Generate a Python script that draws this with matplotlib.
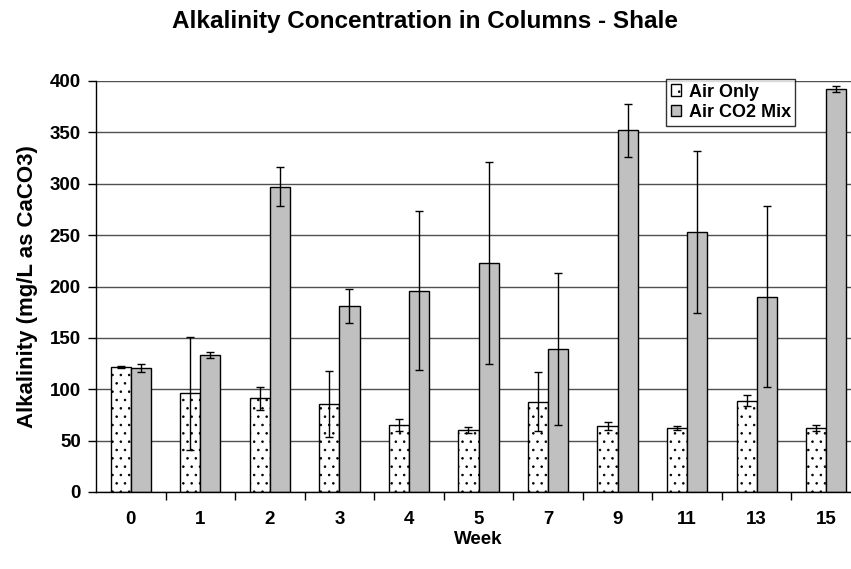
import numpy as np
import matplotlib
matplotlib.use("Agg")
import matplotlib.pyplot as plt

# Data
weeks = ["0", "1", "2", "3", "4", "5", "7", "9", "11", "13", "15"]
air_only = [122, 96, 91, 86, 65, 60, 88, 64, 62, 89, 62]
air_only_err = [1, 55, 11, 32, 6, 3, 29, 4, 2, 5, 3]
air_co2 = [121, 133, 297, 181, 196, 223, 139, 352, 253, 190, 392]
air_co2_err = [4, 3, 19, 17, 77, 98, 74, 26, 79, 88, 3]

plt.rcParams["font.family"] = ["Liberation Sans", "DejaVu Sans"]
plt.rcParams["font.weight"] = "bold"
plt.rcParams["hatch.linewidth"] = 0.6
plt.rcParams["hatch.color"] = "#333333"

fig = plt.figure(figsize=(8.51, 5.69), dpi=100)
# plot area runs a little past the right edge, as in the reference
ax = fig.add_axes([96 / 851, 1 - 492 / 569, 765 / 851, 411 / 569])

x = np.arange(len(weeks))
width = 0.29

ax.set_axisbelow(True)
ax.yaxis.grid(True, color="#505050", linewidth=1.0)

ax.bar(x - width / 2, air_only, width, color="white", edgecolor="black",
       linewidth=1.0, hatch="..", label="Air Only")
ax.bar(x + width / 2, air_co2, width, color="#C0C0C0", edgecolor="black",
       linewidth=1.0, label="Air CO2 Mix")
ax.errorbar(x - width / 2, air_only, yerr=air_only_err, fmt="none",
            ecolor="black", elinewidth=1.0, capsize=3, capthick=1.0)
ax.errorbar(x + width / 2, air_co2, yerr=air_co2_err, fmt="none",
            ecolor="black", elinewidth=1.0, capsize=3, capthick=1.0)

ax.set_xlim(-0.5, len(weeks) - 0.5)
ax.set_ylim(0, 400)
ax.set_yticks(np.arange(0, 401, 50))
ax.set_xticks(x)
ax.set_xticklabels(weeks)
ax.set_xticks(np.arange(0.5, len(weeks) - 0.5, 1), minor=True)
ax.tick_params(axis="x", which="major", length=0, pad=14, labelsize=13.5)
ax.tick_params(axis="x", which="minor", length=6, width=1, direction="out")
ax.tick_params(axis="y", length=6, width=1, direction="out", labelsize=13.5, pad=5)

for s in ["top", "right"]:
    ax.spines[s].set_visible(False)
for s in ["left", "bottom"]:
    ax.spines[s].set_linewidth(1.0)

ax.set_xlabel("Week", fontsize=13.5, fontweight="bold")
ax.xaxis.set_label_coords(0.5, -0.095)
ax.set_ylabel("Alkalinity (mg/L as CaCO3)", fontsize=16, fontweight="bold")
ax.yaxis.set_label_coords(-0.076, 0.5)
fig.text(425 / 851, 1 - 28 / 569, "Alkalinity Concentration in Columns - Shale",
         ha="center", va="baseline", fontsize=17.5, fontweight="bold")

leg = ax.legend(loc="upper left", bbox_to_anchor=(666 / 851, 1 - 79 / 569),
                bbox_transform=fig.transFigure, frameon=True, fancybox=False,
                edgecolor="black", fontsize=13, handlelength=0.6,
                handleheight=0.6, handletextpad=0.4, borderpad=0.25,
                labelspacing=0.2, borderaxespad=0)
leg.get_frame().set_linewidth(1.0)
for t in leg.get_texts():
    t.set_fontweight("bold")

fig.savefig("out.png", dpi=100)
